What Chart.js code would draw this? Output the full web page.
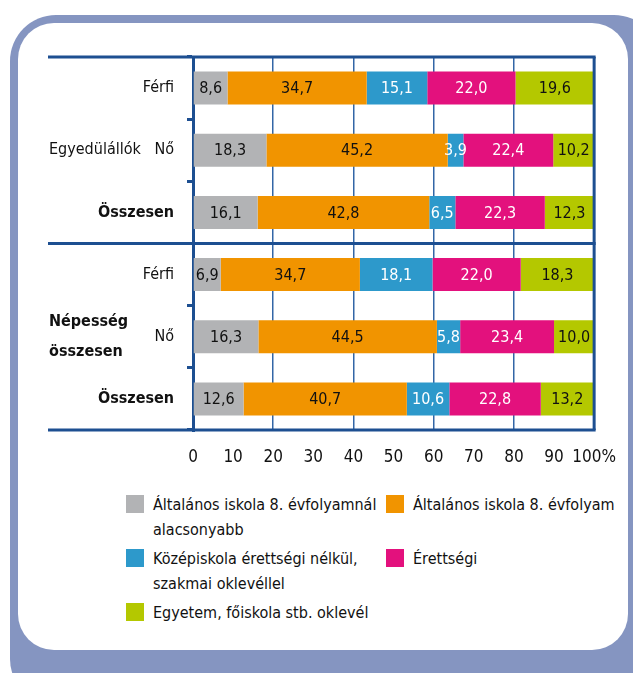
<!DOCTYPE html>
<html>
<head>
<meta charset="utf-8">
<script src="https://cdn.jsdelivr.net/npm/chart.js@4.4.1/dist/chart.umd.min.js"></script>
<style>
  html, body { margin: 0; padding: 0; background: #fff; }
  body { width: 633px; height: 673px; position: relative; overflow: hidden;
         font-family: "DejaVu Sans Condensed", "DejaVu Sans", sans-serif; }
  .frame-out { position: absolute; left: 10px; top: 15px; width: 650px; height: 690px;
               background: #8595c1; border-radius: 46px; }
  .frame-in { position: absolute; left: 18px; top: 23px; width: 610px; height: 627px;
              background: #fff; border-radius: 36px; }
  #wrap { position: absolute; left: 0; top: 0; width: 633px; height: 480px; }
  #legend { position: absolute; left: 126px; top: 492px; display: grid;
            grid-template-columns: 260px 220px; row-gap: 4px; }
  .item { display: flex; align-items: flex-start; font-size: 16px; line-height: 25px; color: #111; }
  .sw { width: 18px; height: 18px; margin-top: 3px; margin-right: 9px; flex: none; }
  .item div.txt span { display: block; white-space: nowrap; }
</style>
</head>
<body>
<div class="frame-out"></div>
<div class="frame-in"></div>
<div id="wrap"><canvas id="chart"></canvas></div>
<div id="legend"></div>
<script>
// ---------- Data ----------
const categories = ['Férfi', 'Nő', 'Összesen', 'Férfi', 'Nő', 'Összesen'];
const groupNames = [['Egyedülállók'], ['Népesség', 'összesen']];
const groupRows = [1, 4];
const seriesNames = [
  ['Általános iskola 8. évfolyamnál', 'alacsonyabb'],
  ['Általános iskola 8. évfolyam'],
  ['Középiskola érettségi nélkül,', 'szakmai oklevéllel'],
  ['Érettségi'],
  ['Egyetem, főiskola stb. oklevél']
];
const lowerThan8 = [8.6, 18.3, 16.1, 6.9, 16.3, 12.6];
const grade8 = [34.7, 45.2, 42.8, 34.7, 44.5, 40.7];
const vocational = [15.1, 3.9, 6.5, 18.1, 5.8, 10.6];
const maturity = [22.0, 22.4, 22.3, 22.0, 23.4, 22.8];
const degree = [19.6, 10.2, 12.3, 18.3, 10.0, 13.2];
const xTickLabels = ['0', '10', '20', '30', '40', '50', '60', '70', '80', '90', '100%'];

const colors = ['#b2b3b5', '#f19400', '#2d99cb', '#e3117d', '#b4c800'];
const labelColors = ['#111', '#111', '#fff', '#fff', '#111'];
const AXIS = '#1d4f91';
const GRID = '#3366a6';
const FONT = '"DejaVu Sans Condensed", "DejaVu Sans", sans-serif';

// ---------- Legend ----------
document.getElementById('legend').innerHTML = seriesNames.map((lines, i) => `
  <div class="item"><div class="sw" style="background:${colors[i]}"></div>
  <div class="txt">${lines.map(l => `<span>${l}</span>`).join('')}</div></div>
`).join('');

// ---------- Plugins ----------
const fmt = v => v.toFixed(1).replace('.', ',');

const barLabels = {
  id: 'barLabels',
  afterDatasetsDraw(chart) {
    const ctx = chart.ctx;
    ctx.save();
    ctx.font = '16px ' + FONT;
    ctx.textAlign = 'center';
    ctx.textBaseline = 'middle';
    chart.data.datasets.forEach((ds, di) => {
      chart.getDatasetMeta(di).data.forEach((el, i) => {
        const p = el.getProps(['x', 'y', 'base'], true);
        ctx.fillStyle = labelColors[di];
        ctx.fillText(fmt(ds.data[i]), (p.x + p.base) / 2, p.y + 1);
      });
    });
    ctx.restore();
  }
};

const frameLines = {
  id: 'frameLines',
  afterDraw(chart, args, opts) {
    const { ctx, chartArea: a, scales: { y } } = chart;
    const sep = (y.getPixelForValue(2) + y.getPixelForValue(3)) / 2;
    ctx.save();
    ctx.strokeStyle = AXIS;
    ctx.lineWidth = 3;
    [a.top, sep, a.bottom].forEach(py => {
      ctx.beginPath();
      ctx.moveTo(opts.left, py);
      ctx.lineTo(a.right + 1.5, py);
      ctx.stroke();
    });
    ctx.beginPath();
    ctx.moveTo(a.right, a.top);
    ctx.lineTo(a.right, a.bottom);
    ctx.stroke();
    // group labels
    ctx.fillStyle = '#111';
    ctx.textAlign = 'left';
    ctx.textBaseline = 'middle';
    groupNames.forEach((lines, g) => {
      ctx.font = (g === 0 ? '' : 'bold ') + '16px ' + FONT;
      const cy = y.getPixelForValue(groupRows[g]);
      const lh = 30;
      lines.forEach((l, k) => {
        ctx.fillText(l, opts.left + 1, cy + (k - (lines.length - 1) / 2) * lh);
      });
    });
    ctx.restore();
  }
};

// ---------- Chart ----------
Chart.defaults.font.family = FONT;
Chart.defaults.font.size = 16;
Chart.defaults.color = '#111';

new Chart(document.getElementById('chart'), {
  type: 'bar',
  data: {
    labels: categories,
    datasets: [lowerThan8, grade8, vocational, maturity, degree].map((d, i) => ({
      label: seriesNames[i].join(' '),
      data: d,
      backgroundColor: colors[i],
      borderWidth: 0,
      barPercentage: 0.53,
      categoryPercentage: 1
    }))
  },
  options: {
    indexAxis: 'y',
    responsive: true,
    maintainAspectRatio: false,
    animation: false,
    layout: { padding: { top: 57, right: 37, left: 0, bottom: 0 } },
    plugins: {
      legend: { display: false },
      tooltip: { enabled: false },
      frameLines: { left: 48 }
    },
    scales: {
      x: {
        stacked: true,
        min: 0, max: 100,
        ticks: { stepSize: 10, padding: 17, maxRotation: 0, autoSkip: false,
                 font: { size: 17 },
                 callback: (v, i) => xTickLabels[i], color: '#111' },
        grid: { drawTicks: false, lineWidth: 1.5,
                color: c => (c.tick && [20, 40, 60, 80].includes(c.tick.value)) ? GRID : 'rgba(0,0,0,0)' },
        border: { display: false },
        afterFit: s => { s.height = 50; }
      },
      y: {
        stacked: true,
        ticks: { padding: 13, color: '#111',
                 font: c => ({ size: 16, weight: categories[c.index] === 'Összesen' ? 'bold' : 'normal' }) },
        grid: { drawOnChartArea: false, drawTicks: true, tickLength: 6, color: AXIS, lineWidth: 3 },
        border: { display: true, color: AXIS, width: 3 },
        afterFit: s => { s.width = 193; }
      }
    }
  },
  plugins: [barLabels, frameLines]
});
</script>
</body>
</html>
